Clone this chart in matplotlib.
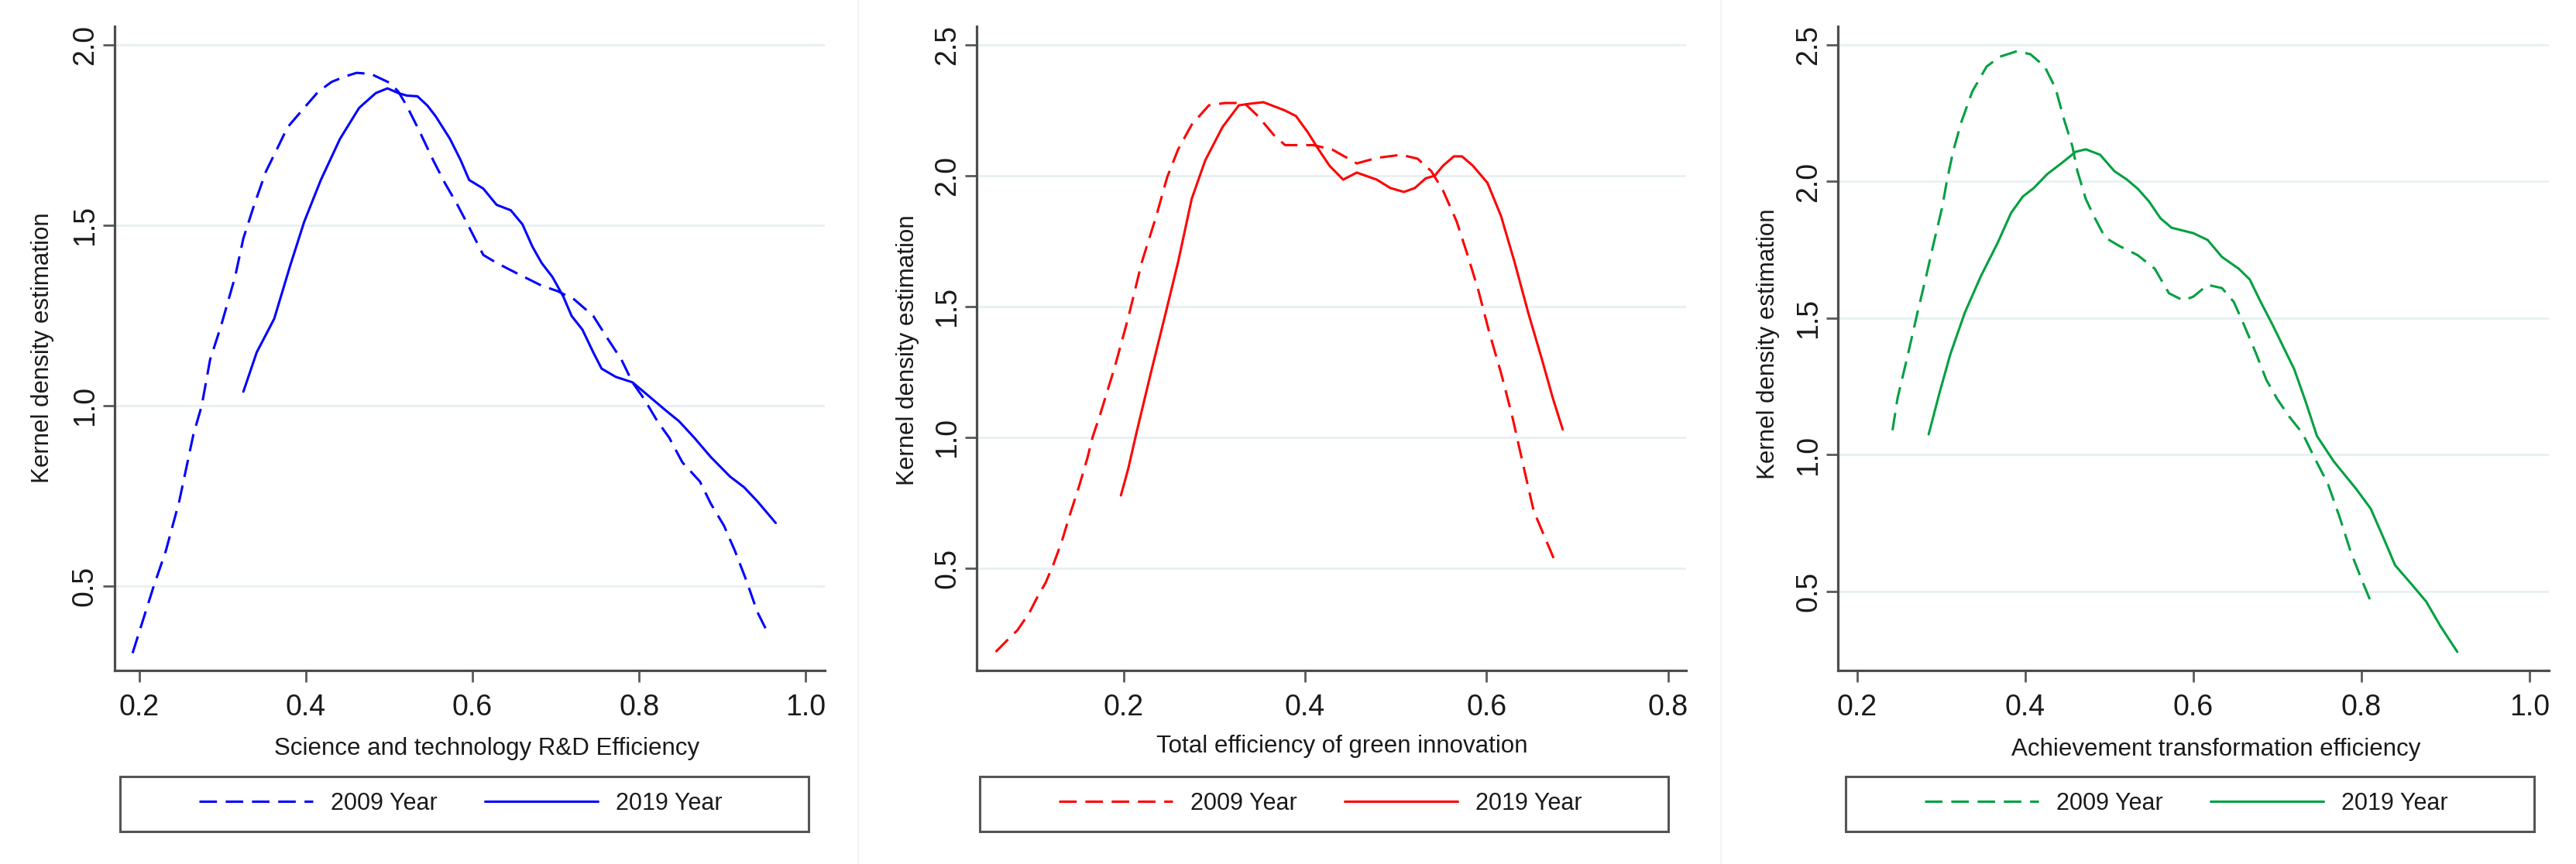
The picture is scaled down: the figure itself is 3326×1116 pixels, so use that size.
import matplotlib
matplotlib.use('Agg')
import matplotlib.pyplot as plt
from matplotlib.patches import Rectangle
from matplotlib.lines import Line2D

plt.rcParams['font.family'] = ['Liberation Sans', 'DejaVu Sans']

# ДАННЫЕ
rd_x_2009 = [0.192, 0.217, 0.232, 0.248, 0.265, 0.275, 0.285, 0.298, 0.315, 0.325, 0.338, 0.352, 0.365,
             0.378, 0.398, 0.415, 0.431, 0.447, 0.461, 0.478, 0.501, 0.511, 0.521, 0.536, 0.553, 0.567,
             0.582, 0.596, 0.613, 0.629, 0.656, 0.683, 0.702, 0.722, 0.745, 0.762, 0.779, 0.792, 0.806,
             0.822, 0.836, 0.852, 0.873, 0.886, 0.902, 0.915, 0.929, 0.942, 0.955]
rd_y_2009 = [0.314, 0.497, 0.598, 0.735, 0.920, 1.000, 1.127, 1.220, 1.357, 1.464, 1.557, 1.649, 1.710,
             1.772, 1.826, 1.871, 1.898, 1.913, 1.923, 1.920, 1.895, 1.871, 1.832, 1.763, 1.680, 1.617,
             1.557, 1.495, 1.418, 1.396, 1.364, 1.333, 1.318, 1.295, 1.249, 1.187, 1.127, 1.065, 1.019,
             0.957, 0.912, 0.843, 0.790, 0.729, 0.667, 0.598, 0.514, 0.428, 0.368]
rd_x_2019 = [0.325, 0.341, 0.362, 0.381, 0.398, 0.418, 0.441, 0.464, 0.484, 0.498, 0.511, 0.521, 0.534,
             0.546, 0.556, 0.573, 0.586, 0.596, 0.613, 0.629, 0.646, 0.660, 0.672, 0.683, 0.696, 0.709,
             0.719, 0.732, 0.745, 0.755, 0.772, 0.792, 0.808, 0.832, 0.848, 0.866, 0.886, 0.909, 0.926,
             0.942, 0.964]
rd_y_2019 = [1.039, 1.148, 1.241, 1.387, 1.510, 1.626, 1.740, 1.826, 1.867, 1.880, 1.867, 1.860, 1.858,
             1.832, 1.802, 1.740, 1.680, 1.626, 1.602, 1.557, 1.542, 1.503, 1.441, 1.396, 1.357, 1.303,
             1.249, 1.211, 1.148, 1.103, 1.080, 1.065, 1.034, 0.987, 0.957, 0.912, 0.858, 0.804, 0.774,
             0.735, 0.675]

green_x_2009 = [0.059, 0.071, 0.083, 0.096, 0.105, 0.114, 0.123, 0.132, 0.141, 0.151, 0.160, 0.166, 0.174,
                0.190, 0.205, 0.220, 0.236, 0.248, 0.260, 0.275, 0.294, 0.312, 0.333, 0.348, 0.366, 0.378,
                0.409, 0.430, 0.457, 0.479, 0.506, 0.524, 0.539, 0.552, 0.567, 0.579, 0.591, 0.603, 0.616,
                0.628, 0.643, 0.652, 0.665, 0.675]
green_y_2009 = [0.180, 0.222, 0.263, 0.329, 0.390, 0.444, 0.518, 0.604, 0.707, 0.814, 0.920, 1.003, 1.086,
                1.266, 1.456, 1.669, 1.846, 1.994, 2.100, 2.195, 2.269, 2.278, 2.278, 2.228, 2.154, 2.117,
                2.117, 2.100, 2.047, 2.068, 2.080, 2.065, 2.018, 1.944, 1.826, 1.698, 1.562, 1.402, 1.246,
                1.086, 0.855, 0.719, 0.612, 0.530]
green_x_2019 = [0.197, 0.205, 0.214, 0.230, 0.245, 0.260, 0.275, 0.290, 0.309, 0.327, 0.339, 0.354, 0.370,
                0.378, 0.390, 0.403, 0.415, 0.427, 0.442, 0.457, 0.479, 0.494, 0.509, 0.521, 0.533, 0.543,
                0.552, 0.564, 0.573, 0.585, 0.601, 0.616, 0.631, 0.646, 0.661, 0.673, 0.684]
green_y_2019 = [0.778, 0.879, 1.015, 1.246, 1.456, 1.669, 1.911, 2.059, 2.186, 2.269, 2.275, 2.281, 2.260,
                2.249, 2.228, 2.166, 2.100, 2.038, 1.985, 2.012, 1.985, 1.953, 1.938, 1.953, 1.990, 2.000,
                2.038, 2.074, 2.074, 2.038, 1.973, 1.846, 1.669, 1.476, 1.299, 1.151, 1.030]

ach_x_2009 = [0.242, 0.248, 0.259, 0.271, 0.282, 0.291, 0.301, 0.307, 0.314, 0.324, 0.337, 0.354, 0.370,
              0.390, 0.406, 0.423, 0.436, 0.446, 0.456, 0.462, 0.472, 0.483, 0.495, 0.512, 0.534, 0.554,
              0.571, 0.588, 0.600, 0.617, 0.634, 0.648, 0.660, 0.674, 0.687, 0.700, 0.714, 0.730, 0.743,
              0.760, 0.774, 0.787, 0.800, 0.811]
ach_y_2009 = [1.090, 1.208, 1.350, 1.511, 1.653, 1.775, 1.905, 2.007, 2.109, 2.219, 2.330, 2.421, 2.457,
              2.477, 2.466, 2.421, 2.341, 2.228, 2.129, 2.038, 1.936, 1.865, 1.795, 1.764, 1.730, 1.681,
              1.591, 1.565, 1.579, 1.622, 1.610, 1.560, 1.477, 1.375, 1.273, 1.203, 1.140, 1.078, 0.996,
              0.894, 0.772, 0.647, 0.545, 0.463]
ach_x_2019 = [0.285, 0.298, 0.311, 0.328, 0.347, 0.367, 0.383, 0.397, 0.410, 0.426, 0.443, 0.460, 0.472,
              0.489, 0.506, 0.521, 0.534, 0.547, 0.561, 0.574, 0.600, 0.617, 0.634, 0.654, 0.667, 0.680,
              0.694, 0.707, 0.720, 0.734, 0.747, 0.767, 0.794, 0.811, 0.827, 0.840, 0.860, 0.877, 0.894,
              0.914]
ach_y_2019 = [1.075, 1.228, 1.370, 1.520, 1.653, 1.775, 1.885, 1.945, 1.976, 2.027, 2.067, 2.109, 2.118,
              2.098, 2.038, 2.007, 1.973, 1.928, 1.865, 1.831, 1.811, 1.786, 1.724, 1.681, 1.642, 1.560,
              1.477, 1.395, 1.313, 1.191, 1.069, 0.976, 0.874, 0.803, 0.690, 0.596, 0.525, 0.463, 0.373,
              0.279]

x_titles = ['Science and technology R&D Efficiency',
            'Total efficiency of green innovation',
            'Achievement transformation efficiency']
y_title = 'Kernel density estimation'
legend_labels = ['2009 Year', '2019 Year']

x_ticks = [[0.2, 0.4, 0.6, 0.8, 1.0], [0.2, 0.4, 0.6, 0.8], [0.2, 0.4, 0.6, 0.8, 1.0]]
y_ticks = [[0.5, 1.0, 1.5, 2.0], [0.5, 1.0, 1.5, 2.0, 2.5], [0.5, 1.0, 1.5, 2.0, 2.5]]

# РАЗМЕТКА (в пикселях итоговой картинки)
W, H = 3326, 1116
TOP, BOTTOM = 34, 866
panels = [
    dict(x09=rd_x_2009, y09=rd_y_2009, x19=rd_x_2019, y19=rd_y_2019, color='#0000ff',
         left=147.5, right=1065, xlim=(0.170, 1.023), ylim=(0.266, 2.052),
         xlab_cx=629, xlab_top=952, ylab_x=70, ylab_cy=449, box=(155, 1044), leg_cx=595),
    dict(x09=green_x_2009, y09=green_y_2009, x19=green_x_2019, y19=green_y_2019, color='#ff0000',
         left=1261, right=2177, xlim=(0.038, 0.820), ylim=(0.109, 2.571),
         xlab_cx=1733, xlab_top=949, ylab_x=1187, ylab_cy=452, box=(1265, 2154), leg_cx=1705),
    dict(x09=ach_x_2009, y09=ach_y_2009, x19=ach_x_2019, y19=ach_y_2019, color='#00a040',
         left=2373, right=3291, xlim=(0.177, 1.023), ylim=(0.211, 2.568),
         xlab_cx=2861, xlab_top=953, ylab_x=2298, ylab_cy=444, box=(2383, 3272), leg_cx=2823),
]

DASH = (0, (7.4, 3.7))
LW = 2.2
AXIS_COLOR = '#4d4d4d'
TEXT_COLOR = '#1a1a1a'

fig = plt.figure(figsize=(W / 100, H / 100), dpi=100)

# едва заметные границы между панелями
for xs in (1108, 2222):
    fig.add_artist(Line2D([xs / W, xs / W], [0, 1], color='#f3f3f3', lw=1.5))

for i, p in enumerate(panels):
    left, right = p['left'], p['right']
    w_px, h_px = right - left, BOTTOM - TOP
    ax = fig.add_axes([left / W, 1 - BOTTOM / H, w_px / W, h_px / H])

    def ax_x(px):
        return (px - left) / w_px

    def ax_y(py):
        return (BOTTOM - py) / h_px

    ax.plot(p['x09'], p['y09'], color=p['color'], lw=LW, linestyle=DASH, label=legend_labels[0],
            dash_joinstyle='round', dash_capstyle='butt')
    ax.plot(p['x19'], p['y19'], color=p['color'], lw=LW, label=legend_labels[1],
            solid_joinstyle='round', solid_capstyle='round')

    ax.set_xlim(*p['xlim'])
    ax.set_ylim(*p['ylim'])
    ax.set_xticks(x_ticks[i], [f'{v:.1f}' for v in x_ticks[i]])
    ax.set_yticks(y_ticks[i], [f'{v:.1f}' for v in y_ticks[i]], rotation=90, va='center')

    ax.grid(axis='y', color='#e6eff1', lw=1.9)
    ax.set_axisbelow(True)
    for s in ('top', 'right'):
        ax.spines[s].set_visible(False)
    for s in ('left', 'bottom'):
        ax.spines[s].set_color(AXIS_COLOR)
        ax.spines[s].set_linewidth(2.3)

    ax.tick_params(axis='both', length=10.8, width=2.0, color='#5a5a5a',
                   labelsize=27, labelcolor=TEXT_COLOR)
    ax.tick_params(axis='x', pad=11)
    ax.tick_params(axis='y', pad=3.5)

    ax.set_xlabel(x_titles[i], fontsize=22.5, color=TEXT_COLOR)
    ax.xaxis.set_label_coords(ax_x(p['xlab_cx']), ax_y(p['xlab_top']))
    ax.set_ylabel(y_title, fontsize=22.5, color=TEXT_COLOR)
    ax.yaxis.set_label_coords(ax_x(p['ylab_x']), ax_y(p['ylab_cy']))

    # легенда в рамке под графиком
    ax.legend(loc='center', bbox_to_anchor=(ax_x(p['leg_cx']), ax_y(1038)), ncol=2, frameon=False,
              fontsize=22, handlelength=4.8, handletextpad=0.75, columnspacing=2.0, borderaxespad=0,
              labelcolor=TEXT_COLOR)
    bx0, bx1 = p['box']
    ax.add_patch(Rectangle((ax_x(bx0), ax_y(1074)), (bx1 - bx0) / w_px, 71 / h_px,
                           transform=ax.transAxes, fill=False, edgecolor='#555555', lw=2.2,
                           clip_on=False))

fig.savefig('out.png', dpi=100, facecolor='white')
